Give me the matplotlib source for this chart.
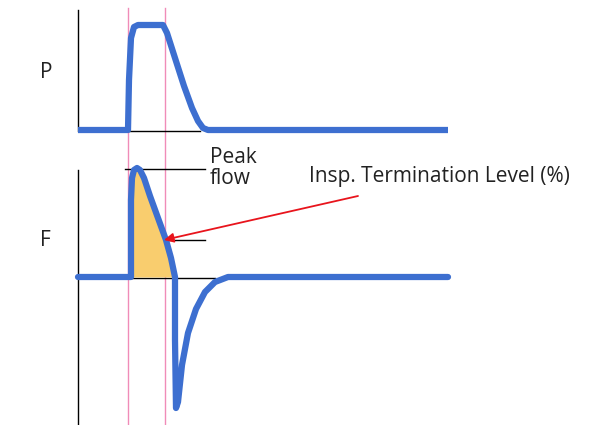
import matplotlib.pyplot as plt

# Waveforms, in picture units (x = time, y = downward screen position)
p_t = [78, 128, 129, 131, 134, 138, 163, 167, 175, 184, 192, 198, 203, 208, 448]
p_v = [130, 130, 80, 38, 27, 25, 25, 33, 58, 86, 108, 121, 128, 130, 130]

f_t = [78, 131, 131, 132, 134, 137, 140, 144, 150, 158, 166, 171, 175,
       175, 176, 178, 182, 188, 196, 205, 215, 228, 448]
f_v = [277, 277, 200, 178, 170, 168, 170, 178, 196, 218, 240, 258, 277,
       340, 408, 402, 365, 333, 309, 292, 282, 277, 277]

# Shaded part (from inspiration start to end of inspiratory flow)
fill_t = [131, 132, 134, 137, 140, 144, 150, 158, 166, 171, 175]
fill_v = [200, 178, 170, 168, 170, 178, 196, 218, 240, 258, 277]

marker_x = [128, 165]

blue = '#3D6FD0'
pink = '#F08CB8'

plt.rcParams['font.family'] = ['Open Sans', 'DejaVu Sans']

fig = plt.figure(figsize=(6.14, 4.25), dpi=100)
ax = fig.add_axes([0, 0, 1, 1])
ax.set_xlim(0, 614)
ax.set_ylim(425, 0)
ax.axis('off')

# pink markers
for x in marker_x:
    ax.plot([x, x], [8, 425], color=pink, lw=1.0, zorder=1)

# axes lines
ax.plot([78, 78], [10, 131], color='black', lw=1.0)
ax.plot([78, 78], [170, 425], color='black', lw=1.0)

# black reference lines
ax.plot([128, 200], [131, 131], color='black', lw=1.0)
ax.plot([125, 205], [169, 169], color='black', lw=1.0)
ax.plot([158, 205], [240, 240], color='black', lw=1.0)
ax.plot([131, 215], [278, 278], color='black', lw=1.0)

ax.fill_between(fill_t, fill_v, 277, color='#F9CD6E', lw=0, zorder=2)

ax.plot(p_t, p_v, color=blue, lw=4.5, solid_capstyle='butt',
        solid_joinstyle='round', zorder=3)
ax.plot(f_t, f_v, color=blue, lw=4.5, solid_capstyle='round',
        solid_joinstyle='round', zorder=3)

ax.annotate('', xy=(164, 240), xytext=(358, 196),
            arrowprops=dict(arrowstyle='-|>', color='#E8141C', lw=1.3,
                            mutation_scale=14, shrinkA=0, shrinkB=0))

ax.text(40, 72, 'P', fontsize=15, va='center', ha='left', color='#222222')
ax.text(40, 240, 'F', fontsize=15, va='center', ha='left', color='#222222')
ax.text(210, 168, 'Peak\nflow', fontsize=15, va='center', ha='left',
        color='#222222', linespacing=0.95)
ax.text(309, 176, 'Insp. Termination Level (%)', fontsize=15, va='center',
        ha='left', color='#222222')

fig.savefig('out.png', dpi=100)
